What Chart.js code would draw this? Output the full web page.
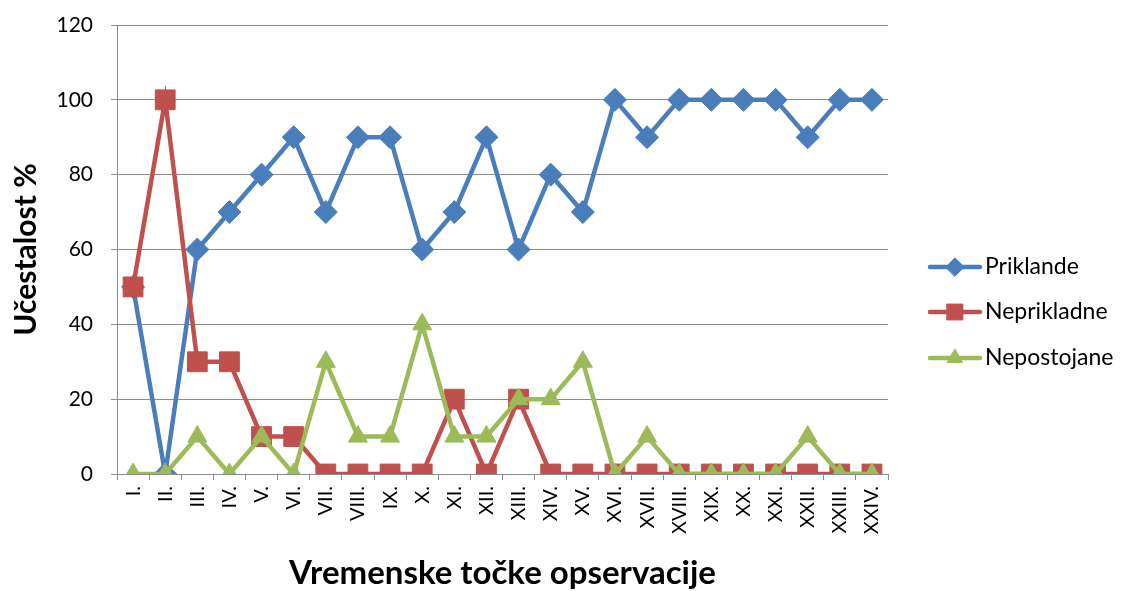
<!DOCTYPE html>
<html>
<head>
<meta charset="utf-8">
<script src="https://cdn.jsdelivr.net/npm/chart.js@4/dist/chart.umd.min.js"></script>
<style>
  html, body { margin: 0; padding: 0; background: #fff; }
  #wrap { width: 1122px; height: 591px; position: relative; }
</style>
</head>
<body>
<div id="wrap"><canvas id="c" width="1122" height="591"></canvas></div>
<script>
const categories = ["I.", "II.", "III.", "IV.", "V.", "VI.", "VII.", "VIII.", "IX.", "X.", "XI.", "XII.",
  "XIII.", "XIV.", "XV.", "XVI.", "XVII.", "XVIII.", "XIX.", "XX.", "XXI.", "XXII.", "XXIII.", "XXIV."];
const priklande   = [50, 0, 60, 70, 80, 90, 70, 90, 90, 60, 70, 90, 60, 80, 70, 100, 90, 100, 100, 100, 100, 90, 100, 100];
const neprikladne = [50, 100, 30, 30, 10, 10, 0, 0, 0, 0, 20, 0, 20, 0, 0, 0, 0, 0, 0, 0, 0, 0, 0, 0];
const nepostojane = [0, 0, 10, 0, 10, 0, 30, 10, 10, 40, 10, 10, 20, 20, 30, 0, 10, 0, 0, 0, 0, 10, 0, 0];
const seriesNames = ["Priklande", "Neprikladne", "Nepostojane"];
const yTicks = [0, 20, 40, 60, 80, 100, 120];
const yTitle = "Učestalost %";
const xTitle = "Vremenske točke opservacije";

const FONT = "Lato, 'Open Sans', sans-serif";
const BLUE = "#4A7EBB", RED = "#C0504D", GREEN = "#9BBB59";
const GRID = "#8C8C8C";

const styles = [
  { color: BLUE, point: "rectRot", radius: 11.5, order: 3 },
  { color: RED, point: "rect", radius: 14, order: 2 },
  { color: GREEN, point: "triangle", radius: 11, order: 1 }
];
const seriesData = [priklande, neprikladne, nepostojane];

const datasets = seriesData.map((d, i) => ({
  label: seriesNames[i],
  data: d,
  borderColor: styles[i].color,
  backgroundColor: styles[i].color,
  pointBackgroundColor: styles[i].color,
  pointBorderColor: styles[i].color,
  pointBorderWidth: 1,
  pointStyle: styles[i].point,
  pointRadius: styles[i].radius,
  pointHoverRadius: styles[i].radius,
  borderWidth: 4.5,
  tension: 0,
  order: styles[i].order
}));

const legendPlugin = {
  id: "customLegend",
  afterDraw(chart) {
    const ctx = chart.ctx;
    const ys = [267, 312, 358];
    ctx.save();
    for (let i = 0; i < seriesNames.length; i++) {
      const y = ys[i];
      ctx.strokeStyle = styles[i].color;
      ctx.lineWidth = 4.5;
      ctx.lineCap = "round";
      ctx.beginPath();
      ctx.moveTo(930, y);
      ctx.lineTo(980, y);
      ctx.stroke();
      ctx.fillStyle = styles[i].color;
      ctx.lineWidth = 1;
      Chart.helpers.drawPoint(ctx, {
        pointStyle: styles[i].point,
        radius: styles[i].radius * 0.8,
        rotation: 0,
        borderWidth: 1
      }, 955, y);
      ctx.fillStyle = "#000";
      ctx.font = "23px " + FONT;
      ctx.textBaseline = "middle";
      ctx.textAlign = "left";
      ctx.fillText(seriesNames[i], 985, y);
    }
    ctx.restore();
  }
};

new Chart(document.getElementById("c"), {
  type: "line",
  data: { labels: categories, datasets },
  plugins: [legendPlugin],
  options: {
    responsive: false,
    animation: false,
    events: [],
    layout: { padding: { top: 25, right: 234, left: 0, bottom: 0 } },
    plugins: { legend: { display: false }, tooltip: { enabled: false } },
    scales: {
      x: {
        type: "category",
        offset: true,
        grid: { display: true, drawOnChartArea: false, drawTicks: true, tickLength: 6, offset: true, color: GRID, lineWidth: 1 },
        border: { display: true, color: GRID, width: 1 },
        ticks: {
          autoSkip: false, maxRotation: 90, minRotation: 90, padding: 6,
          color: "#000", font: { family: FONT, size: 20 }
        },
        title: {
          display: true, text: xTitle, color: "#000",
          font: { family: FONT, size: 33, weight: "bold" }, padding: { top: 0, bottom: -2 }
        },
        afterFit(scale) { scale.height = 117; scale.paddingLeft = 0; scale.paddingRight = 0; }
      },
      y: {
        min: 0, max: 120,
        afterBuildTicks(scale) { scale.ticks = yTicks.map(v => ({ value: v })); },
        grid: { color: GRID, lineWidth: 1, tickLength: 6, drawTicks: true },
        border: { display: true, color: GRID, width: 1 },
        ticks: {
          padding: 18, color: "#000", font: { family: FONT, size: 21 },
          callback: v => String(v)
        },
        title: {
          display: true, text: yTitle, color: "#000",
          font: { family: FONT, size: 30, weight: "bold" }, padding: { top: 8, bottom: 0 }
        },
        afterFit(scale) { scale.width = 117; scale.paddingTop = 0; scale.paddingBottom = 0; }
      }
    }
  }
});
</script>
</body>
</html>
